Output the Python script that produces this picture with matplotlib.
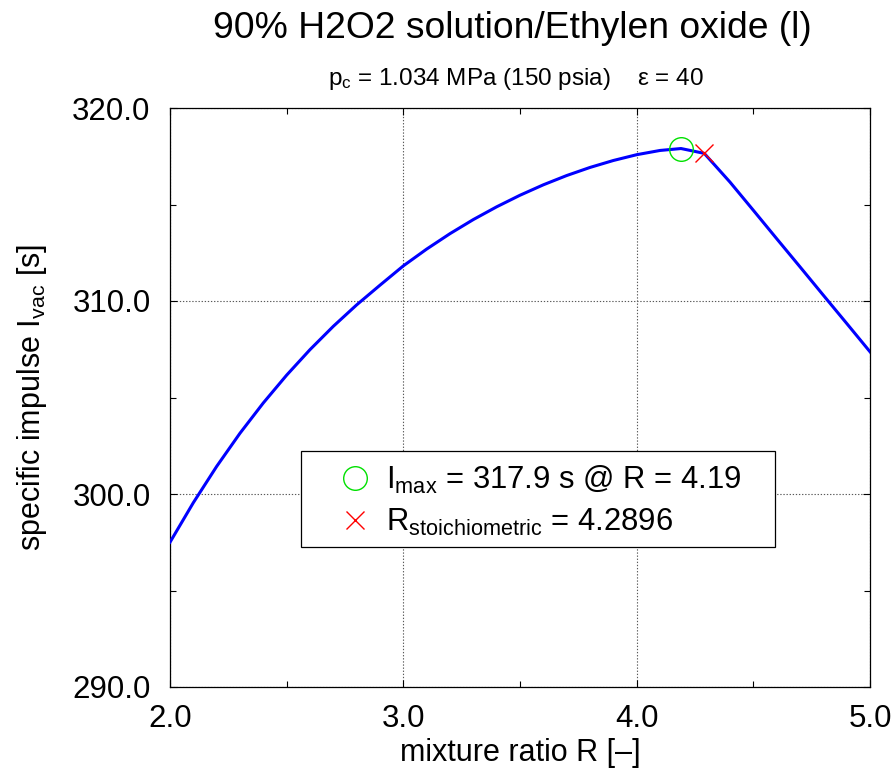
import matplotlib
matplotlib.use("Agg")
import matplotlib.pyplot as plt
from matplotlib.ticker import MultipleLocator, FormatStrFormatter
from matplotlib.patches import Rectangle

plt.rcParams['font.family'] = ['Liberation Sans', 'DejaVu Sans']
plt.rcParams['mathtext.fontset'] = 'custom'
plt.rcParams['mathtext.rm'] = 'Liberation Sans'
plt.rcParams['mathtext.it'] = 'Liberation Sans:italic'
plt.rcParams['mathtext.bf'] = 'Liberation Sans:bold'

# ---- data ----
mixture_ratio = [2.0, 2.1, 2.2, 2.3, 2.4, 2.5, 2.6, 2.7, 2.8, 2.9,
                 3.0, 3.1, 3.2, 3.3, 3.4, 3.5, 3.6, 3.7, 3.8, 3.9,
                 4.0, 4.1, 4.19, 4.2896, 4.4, 4.5, 4.6, 4.7, 4.8,
                 4.9, 5.0]
isp_vac = [297.5, 299.55, 301.43, 303.15, 304.72, 306.16, 307.48, 308.69, 309.8, 310.82,
           311.82, 312.69, 313.49, 314.22, 314.88, 315.48, 316.02, 316.5, 316.92, 317.28,
           317.58, 317.8, 317.9, 317.65, 316.16, 314.7, 313.23, 311.77, 310.3,
           308.84, 307.37]
R_max = 4.19
I_max = 317.9
R_stoich = 4.2896
I_stoich = 317.65

title = "90% H2O2 solution/Ethylen oxide (l)"
subtitle = r"p$_{\rm c}$ = 1.034 MPa (150 psia)    ε = 40"
x_label = "mixture ratio R [–]"
y_label = r"specific impulse I$_{\rm vac}$ [s]"

W, H = 894, 773
fig = plt.figure(figsize=(W / 100, H / 100), dpi=100)
ax = fig.add_axes([170 / W, 1 - 687 / H, 700 / W, 579 / H])

ax.plot(mixture_ratio, isp_vac, color='#0000ff', lw=2.2, zorder=4,
        solid_joinstyle='round')
h1, = ax.plot([R_max], [I_max], linestyle='none', marker='o', markersize=17,
              markerfacecolor='none', markeredgecolor='#00e000', markeredgewidth=1.0,
              zorder=5, label=r"I$_{\rm max}$ = %.1f s @ R = %.2f" % (I_max, R_max))
h2, = ax.plot([R_stoich], [I_stoich], linestyle='none', marker='x', markersize=13,
              markeredgecolor='#ff0000', markeredgewidth=1.0, zorder=5,
              label=r"R$_{\rm stoichiometric}$ = %.4f" % R_stoich)

ax.set_xlim(2.0, 5.0)
ax.set_ylim(290.0, 320.0)
ax.xaxis.set_major_locator(MultipleLocator(1.0))
ax.xaxis.set_minor_locator(MultipleLocator(0.5))
ax.yaxis.set_major_locator(MultipleLocator(10.0))
ax.yaxis.set_minor_locator(MultipleLocator(5.0))
ax.xaxis.set_major_formatter(FormatStrFormatter('%.1f'))
ax.yaxis.set_major_formatter(FormatStrFormatter('%.1f'))
ax.tick_params(which='both', direction='in', top=True, right=True, width=0.8, color='black')
ax.tick_params(which='major', length=5, labelsize=22.5)
ax.tick_params(axis='x', which='major', pad=12)
ax.tick_params(axis='y', which='major', pad=14)
ax.tick_params(which='minor', length=4)
for s in ax.spines.values():
    s.set_linewidth(0.9)
    s.set_color('black')

ax.grid(True, which='major', color='0.35', linestyle=(0, (1.2, 1.6)), linewidth=0.8)
ax.set_axisbelow(True)

ax.set_xlabel(x_label, fontsize=22, labelpad=3)
ax.set_ylabel(y_label, fontsize=22, labelpad=17)

fig.text(512 / W, 1 - 28 / H, title, fontsize=26.8, ha='center', va='center')
fig.text(516 / W, 1 - 79 / H, subtitle, fontsize=17.5, ha='center', va='center')

# legend frame
ax.add_patch(Rectangle((0.187, 0.242), 0.677, 0.166, transform=ax.transAxes,
                       facecolor='white', edgecolor='black', linewidth=0.9, zorder=3))
leg = ax.legend(handles=[h1, h2], loc='center', bbox_to_anchor=(0.527, 0.322),
                frameon=False, fontsize=22.3, handlelength=1.2, handletextpad=0.4,
                labelspacing=0.35, borderpad=0.0)
leg.set_zorder(6)

fig.savefig("out.png", dpi=100)
